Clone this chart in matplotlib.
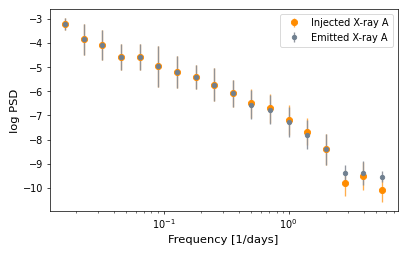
import numpy as np
import matplotlib
matplotlib.use("Agg")
import matplotlib.pyplot as plt

# frequency bins [1/days]
freq = [0.0164, 0.0231, 0.0324, 0.0459, 0.0646, 0.0908, 0.128, 0.181, 0.254,
        0.357, 0.504, 0.706, 1.0, 1.40, 1.98, 2.81, 3.93, 5.55]

# log PSD values and errors
inj_psd = [-3.22, -3.85, -4.09, -4.58, -4.58, -4.96, -5.21, -5.41, -5.73,
           -6.08, -6.50, -6.70, -7.17, -7.68, -8.40, -9.80, -9.49, -10.07]
inj_err = [0.24, 0.63, 0.62, 0.55, 0.52, 0.85, 0.66, 0.48, 0.68,
           0.55, 0.60, 0.60, 0.62, 0.56, 0.65, 0.55, 0.58, 0.50]

emi_psd = [-3.22, -3.85, -4.09, -4.58, -4.58, -4.96, -5.21, -5.41, -5.73,
           -6.08, -6.56, -6.77, -7.25, -7.80, -8.40, -9.36, -9.38, -9.53]
emi_err = [0.24, 0.63, 0.62, 0.55, 0.52, 0.85, 0.66, 0.48, 0.68,
           0.55, 0.60, 0.60, 0.62, 0.60, 0.65, 0.30, 0.48, 0.24]

fig, ax = plt.subplots(figsize=(6.4, 4.0), dpi=63.6)

ax.errorbar(freq, inj_psd, yerr=inj_err, fmt='o', color='darkorange',
            ms=7, elinewidth=1.5, ecolor=(1.0, 0.55, 0.0, 0.7),
            label='Injected X-ray A')
ax.errorbar(freq, emi_psd, yerr=emi_err, fmt='o', color='slategray',
            ms=5, elinewidth=1.5, ecolor=(0.55, 0.57, 0.6, 0.95),
            label='Emitted X-ray A')

ax.set_xscale('log')
ax.set_xlabel('Frequency [1/days]', fontsize=13)
ax.set_ylabel('log PSD', fontsize=13)
ax.tick_params(labelsize=11)
ax.legend(fontsize=11, loc='upper right')

fig.tight_layout()
fig.savefig('out.png', dpi=63.6)
